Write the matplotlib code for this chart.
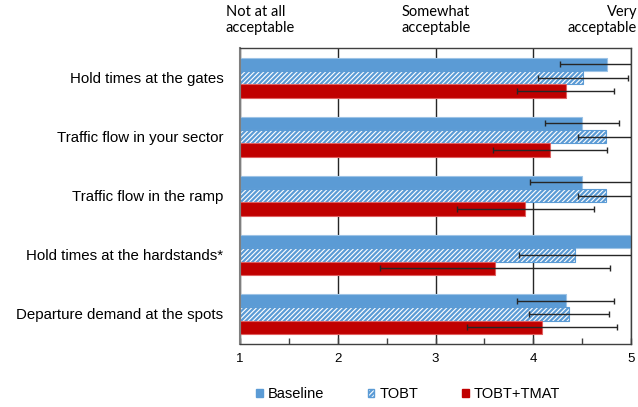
import numpy as np
import matplotlib
matplotlib.use("Agg")
import matplotlib.pyplot as plt
from matplotlib.patches import Patch

categories = ["Hold times at the gates", "Traffic flow in your sector",
              "Traffic flow in the ramp", "Hold times at the hardstands*",
              "Departure demand at the spots"]
series = ["Baseline", "TOBT", "TOBT+TMAT"]

baseline = [4.75, 4.50, 4.50, 5.00, 4.33]
tobt = [4.51, 4.74, 4.74, 4.43, 4.37]
tobt_tmat = [4.33, 4.17, 3.92, 3.61, 4.09]

baseline_err = [0.48, 0.38, 0.53, np.nan, 0.50]
tobt_err = [0.46, 0.28, 0.28, 0.58, 0.41]
tobt_tmat_err = [0.50, 0.58, 0.70, 1.18, 0.77]

scale_labels = ["Not at all\nacceptable", "Somewhat\nacceptable", "Very\nacceptable"]

blue = "#5B9BD5"
red = "#C00000"
plt.rcParams["hatch.linewidth"] = 1.6
plt.rcParams["font.family"] = ["Liberation Sans", "DejaVu Sans"]

fig = plt.figure(figsize=(6.38, 4.07), dpi=100)
ax = fig.add_axes([240 / 638, (407 - 343.5) / 407, 391 / 638, 295.5 / 407])

y = np.arange(len(categories))
h = 0.226
offs = [-h, 0, h]
vals = [baseline, tobt, tobt_tmat]
errs = [baseline_err, tobt_err, tobt_tmat_err]
styles = [dict(color=blue, edgecolor="#9DC3E6", linewidth=0.8),
          dict(color="white", edgecolor=blue, hatch="///////", linewidth=0.8),
          dict(color=red, edgecolor="#E06060", linewidth=0.8)]

for v, e, o, st in zip(vals, errs, offs, styles):
    ax.barh(y + o, np.array(v) - 1, left=1, height=h, zorder=2, **st)
    ax.errorbar(v, y + o, xerr=e, fmt="none", ecolor="#262626",
                elinewidth=1.0, capsize=2.5, capthick=1.0, zorder=3)

ax.set_xlim(1, 5)
ax.set_ylim(len(categories) - 0.5, -0.5)
ax.set_xticks([1, 2, 3, 4, 5])
ax.set_xticks(np.arange(1.5, 5, 1.0), minor=True)
ax.tick_params(axis="x", which="both", direction="in", length=4, width=1,
               color="#404040", labelsize=9.5, pad=7, labelcolor="#000000")
ax.tick_params(axis="y", length=0, labelsize=10.8, pad=12, labelcolor="#000000")
ax.set_yticks(y)
ax.set_yticklabels(categories)
ax.grid(axis="x", which="major", color="#262626", linewidth=1.0, zorder=1)
ax.set_axisbelow(True)
for sp in ax.spines.values():
    sp.set_color("#404040")
    sp.set_linewidth(1.0)
ax.spines["left"].set_linewidth(1.5)
ax.spines["left"].set_color("#7F7F7F")

top_font = dict(fontsize=10.5, family=["Lato", "DejaVu Sans"], color="#000000",
                linespacing=1.25, va="center")
fig.text(226 / 638, 1 - 20 / 407, scale_labels[0], ha="left", **top_font)
fig.text(436 / 638, 1 - 20 / 407, scale_labels[1], ha="center", **top_font)
fig.text(637 / 638, 1 - 20 / 407, scale_labels[2], ha="right",
         multialignment="right", **top_font)

handles = [Patch(facecolor=blue, edgecolor=blue),
           Patch(facecolor="white", edgecolor=blue, hatch="///////"),
           Patch(facecolor=red, edgecolor=red)]
fig.legend(handles, series, loc="center", bbox_to_anchor=(408 / 638, 1 - 394 / 407),
           ncol=3, frameon=False, fontsize=10.5, handlelength=0.45, handleheight=0.45,
           handletextpad=0.35, columnspacing=3.0)

fig.savefig("out.png", dpi=100)
